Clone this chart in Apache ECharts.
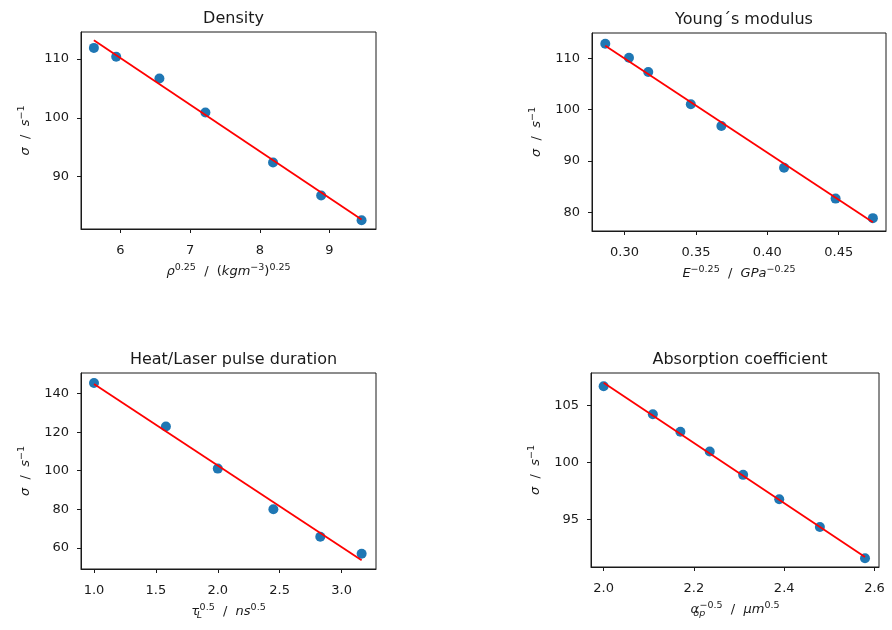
<!DOCTYPE html>
<html>
<head>
<meta charset="utf-8">
<script src="https://cdn.jsdelivr.net/npm/echarts@6/dist/echarts.min.js"></script>
<style>
  html, body { margin: 0; padding: 0; background: #fff; }
  #chart { width: 892px; height: 630px; }
</style>
</head>
<body>
<div id="chart"></div>
<script>
// Density panel
const densityX = [5.62, 5.94, 6.56, 7.22, 8.19, 8.88, 9.46];
const densityY = [111.9, 110.4, 106.7, 100.9, 92.4, 86.8, 82.6];
const densityFitX = [5.62, 9.46];
const densityFitY = [113.2, 82.7];
const densityXTicks = [6, 7, 8, 9];
const densityYTicks = [90, 100, 110];

// Young's modulus panel
const youngX = [0.2865, 0.3031, 0.3166, 0.3464, 0.3678, 0.4117, 0.4478, 0.4739];
const youngY = [112.8, 110.1, 107.3, 101.05, 96.8, 88.7, 82.7, 78.9];
const youngFitX = [0.2865, 0.4739];
const youngFitY = [112.4, 78.1];
const youngXTicks = [0.30, 0.35, 0.40, 0.45];
const youngYTicks = [80, 90, 100, 110];

// Heat/Laser pulse duration panel
const heatX = [1.0, 1.581, 2.0, 2.449, 2.828, 3.162];
const heatY = [145.5, 122.9, 101.1, 80.0, 65.7, 56.9];
const heatFitX = [1.0, 3.162];
const heatFitY = [145.0, 53.6];
const heatXTicks = [1.0, 1.5, 2.0, 2.5, 3.0];
const heatYTicks = [60, 80, 100, 120, 140];

// Absorption coefficient panel
const absX = [2.0, 2.109, 2.170, 2.235, 2.309, 2.389, 2.479, 2.579];
const absY = [106.67, 104.21, 102.68, 100.96, 98.91, 96.78, 94.35, 91.6];
const absFitX = [2.0, 2.579];
const absFitY = [106.98, 91.72];
const absXTicks = [2.0, 2.2, 2.4, 2.6];
const absYTicks = [95, 100, 105];

const titles = ['Density', 'Young\u00b4s modulus', 'Heat/Laser pulse duration', 'Absorption coefficient'];

const FONT = 'DejaVu Sans';
const INK = '#1a1a1a';
const DOT = '#1f77b4';
const FIT = '#ff0000';

const zip = (xs, ys) => xs.map((x, i) => [x, ys[i]]);

// m: math italic, r: roman, sp: superscript, sb: subscript,
// sbs: subscript that takes no horizontal room so the next superscript stacks above it
const rich = {
  m:  { fontFamily: FONT, fontSize: 13, fontStyle: 'italic', color: INK, lineHeight: 18 },
  r:  { fontFamily: FONT, fontSize: 13, color: INK, lineHeight: 18 },
  sp: { fontFamily: FONT, fontSize: 9.5, color: INK, lineHeight: 11, verticalAlign: 'top' },
  sb: { fontFamily: FONT, fontSize: 9.5, fontStyle: 'italic', color: INK, lineHeight: 11, verticalAlign: 'bottom' },
  sbs: { fontFamily: FONT, fontSize: 9.5, fontStyle: 'italic', color: INK, lineHeight: 11, verticalAlign: 'bottom', width: 0.5, align: 'left' }
};

const yName = '{m|\u03c3}{r|  /  }{m|s}{sp|\u22121}';
const xNames = [
  '{m|\u03c1}{sp|0.25}{r|  /  (}{m|kgm}{sp|\u22123}{r|)}{sp|0.25}',
  '{m|E}{sp|\u22120.25}{r|  /  }{m|GPa}{sp|\u22120.25}',
  '{m|\u03c4}{sbs|L}{sp|0.5}{r|  /  }{m|ns}{sp|0.5}',
  '{m|\u03b1}{sbs|op}{sp|\u22120.5}{r|  /  }{m|\u03bcm}{sp|0.5}'
];

// Plot areas in pixels: [left, top, width, height]
const boxes = [
  [81, 32, 295, 197],
  [592, 33, 294, 198],
  [81, 373, 295, 196],
  [591, 373, 288, 194]
];

const ranges = [
  { x: [5.435, 9.667], y: [81.1, 114.6], xt: densityXTicks, yt: densityYTicks, xd: 0, yd: 0 },
  { x: [0.2772, 0.4831], y: [76.4, 114.9], xt: youngXTicks, yt: youngYTicks, xd: 2, yd: 0 },
  { x: [0.895, 3.278], y: [49.0, 150.7], xt: heatXTicks, yt: heatYTicks, xd: 1, yd: 0 },
  { x: [1.972, 2.610], y: [90.84, 107.83], xt: absXTicks, yt: absYTicks, xd: 1, yd: 0 }
];

const scatterData = [zip(densityX, densityY), zip(youngX, youngY), zip(heatX, heatY), zip(absX, absY)];
const fitData = [zip(densityFitX, densityFitY), zip(youngFitX, youngFitY), zip(heatFitX, heatFitY), zip(absFitX, absFitY)];

const grid = boxes.map(b => ({
  left: b[0], top: b[1], width: b[2], height: b[3],
  show: true, borderColor: INK, borderWidth: 1, backgroundColor: 'transparent',
  containLabel: false
}));

const axisCommon = {
  type: 'value',
  axisLine: { show: true, onZero: false, lineStyle: { color: INK, width: 1 } },
  axisTick: { show: true, inside: false, length: 4, lineStyle: { color: INK, width: 1 } },
  splitLine: { show: false },
  nameLocation: 'middle'
};

const xAxis = ranges.map((r, i) => Object.assign({}, axisCommon, {
  gridIndex: i, min: r.x[0], max: r.x[1],
  axisTick: Object.assign({}, axisCommon.axisTick, { customValues: r.xt }),
  axisLabel: {
    customValues: r.xt, margin: 15, color: INK, fontFamily: FONT, fontSize: 13,
    formatter: v => Number(v).toFixed(r.xd)
  },
  name: xNames[i], nameGap: 34,
  nameTextStyle: { rich: rich }
}));

const yAxis = ranges.map((r, i) => Object.assign({}, axisCommon, {
  gridIndex: i, min: r.y[0], max: r.y[1],
  axisTick: Object.assign({}, axisCommon.axisTick, { customValues: r.yt }),
  axisLabel: {
    customValues: r.yt, margin: 12, color: INK, fontFamily: FONT, fontSize: 13,
    formatter: v => Number(v).toFixed(r.yd)
  },
  name: yName, nameGap: 46,
  nameTextStyle: { rich: rich }
}));

const title = boxes.map((b, i) => ({
  text: titles[i],
  left: b[0] + b[2] / 2,
  top: b[1] - 26,
  textAlign: 'center',
  textStyle: { fontFamily: FONT, fontSize: 16, fontWeight: 'normal', color: INK }
}));

const series = [];
for (let i = 0; i < 4; i++) {
  series.push({
    type: 'scatter', xAxisIndex: i, yAxisIndex: i,
    data: scatterData[i], symbolSize: 10,
    itemStyle: { color: DOT, opacity: 1 }, z: 2, silent: true
  });
  series.push({
    type: 'line', xAxisIndex: i, yAxisIndex: i,
    data: fitData[i], showSymbol: false, symbol: 'none',
    lineStyle: { color: FIT, width: 1.8 }, z: 3, silent: true
  });
}

const chart = echarts.init(document.getElementById('chart'), null, { renderer: 'canvas' });
chart.setOption({
  animation: false,
  backgroundColor: '#ffffff',
  title: title,
  grid: grid,
  xAxis: xAxis,
  yAxis: yAxis,
  series: series
});
</script>
</body>
</html>
